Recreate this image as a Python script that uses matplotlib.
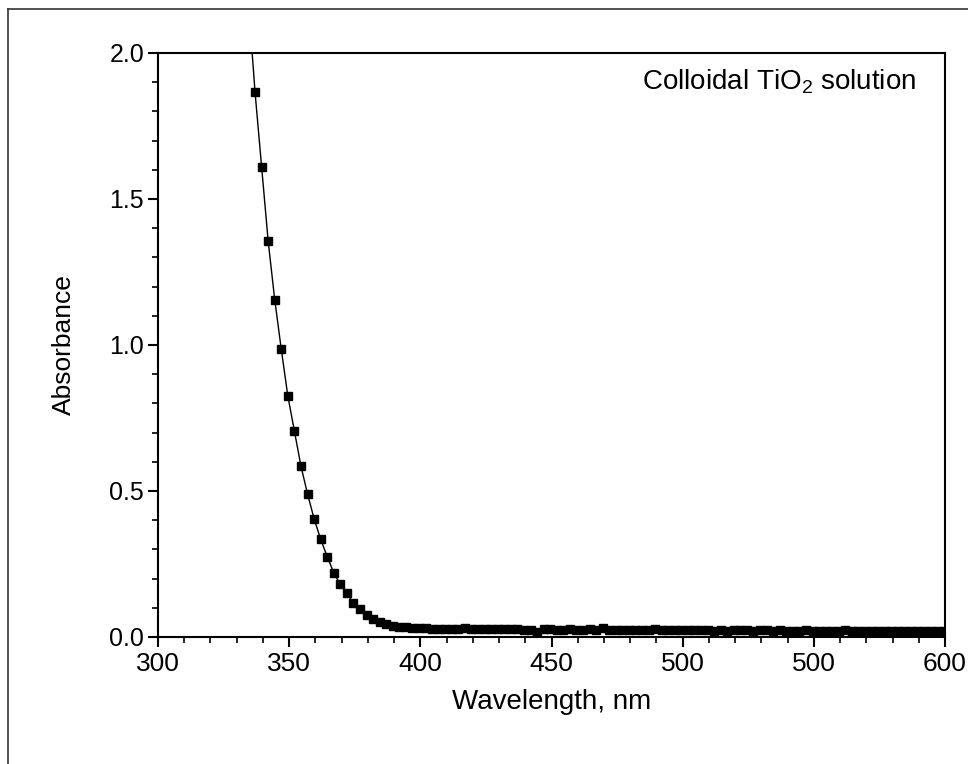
import numpy as np
import matplotlib
matplotlib.use("Agg")
import matplotlib.pyplot as plt
from matplotlib.lines import Line2D
from matplotlib.ticker import MultipleLocator

plt.rcParams['font.family'] = ['Liberation Sans', 'DejaVu Sans']
plt.rcParams['mathtext.fontset'] = 'custom'
plt.rcParams['mathtext.rm'] = 'Liberation Sans'
plt.rcParams['mathtext.it'] = 'Liberation Sans:italic'

# wavelength grid of the spectrum (nm), one reading every 2.5 nm
wavelength = np.arange(334.5, 600, 2.5)

absorbance = [
    2.17, 1.865, 1.61, 1.355, 1.155, 0.985, 0.825, 0.705, 0.585, 0.49,
    0.405, 0.335, 0.275, 0.22, 0.18, 0.15, 0.115, 0.095, 0.075, 0.062,
    0.052, 0.043, 0.037, 0.035, 0.033, 0.032, 0.031,
    # tail 402 - 599.5 nm
    0.030, 0.029, 0.029, 0.028, 0.028, 0.027, 0.031, 0.028, 0.027, 0.026,
    0.027, 0.028, 0.027, 0.026, 0.026, 0.025, 0.024, 0.018, 0.029, 0.026,
    0.025, 0.025, 0.026, 0.024, 0.025, 0.026, 0.025, 0.031, 0.025, 0.024,
    0.025, 0.023, 0.024, 0.025, 0.024, 0.026, 0.024, 0.023, 0.024, 0.025,
    0.023, 0.024, 0.023, 0.024, 0.022, 0.023, 0.022, 0.023, 0.024, 0.023,
    0.022, 0.023, 0.024, 0.022, 0.023, 0.022, 0.021, 0.022, 0.023, 0.022,
    0.021, 0.022, 0.021, 0.022, 0.023, 0.021, 0.022, 0.021, 0.020, 0.021,
    0.021, 0.020, 0.021, 0.020, 0.021, 0.020, 0.020, 0.021, 0.020, 0.020,
]

xticks = [300, 350, 400, 450, 500, 550, 600]
xtick_labels = ["300", "350", "400", "450", "500", "500", "600"]
yticks = [0.0, 0.5, 1.0, 1.5, 2.0]

fig = plt.figure(figsize=(9.68, 7.64), dpi=100)
ax = fig.add_axes([158/968, 127/764, 787/968, 584/764])

ax.plot(wavelength, absorbance, color='black', lw=1.0,
        marker='s', markersize=5.5, markerfacecolor='black', markeredgecolor='black')

ax.set_xlim(300, 600)
ax.set_ylim(0, 2.0)
ax.set_xticks(xticks)
ax.set_xticklabels(xtick_labels)
ax.set_yticks(yticks)
ax.set_yticklabels(["%.1f" % v for v in yticks])
ax.xaxis.set_minor_locator(MultipleLocator(10))
ax.yaxis.set_minor_locator(MultipleLocator(0.1))

for s in ax.spines.values():
    s.set_linewidth(1.5)
ax.tick_params(which='major', direction='out', length=7, width=1.5)
ax.tick_params(which='minor', direction='out', length=4, width=1.2)
ax.tick_params(axis='x', which='major', labelsize=19, pad=4)
ax.tick_params(axis='y', which='major', labelsize=18, pad=3)

ax.set_xlabel("Wavelength, nm", fontsize=20, labelpad=9)
ax.set_ylabel("Absorbance", fontsize=19, labelpad=24)

ax.text(0.963, 0.95, "Colloidal TiO$_2$ solution", transform=ax.transAxes,
        ha='right', va='center', fontsize=20)

# frame around the whole picture (runs off the right and bottom edges)
fig.add_artist(Line2D([8/968, 8/968], [0, 1 - 9/764], transform=fig.transFigure,
                      color='0.2', lw=1.2))
fig.add_artist(Line2D([8/968, 1], [1 - 9/764, 1 - 9/764], transform=fig.transFigure,
                      color='0.2', lw=1.2))

fig.savefig("out.png", dpi=100)
